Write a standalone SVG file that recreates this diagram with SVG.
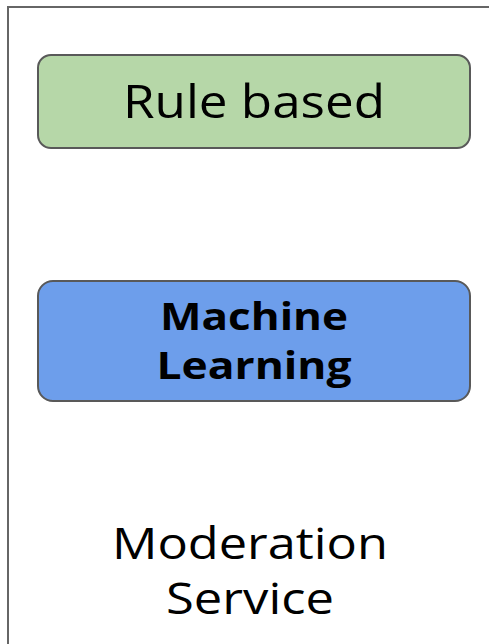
<svg xmlns="http://www.w3.org/2000/svg" width="489" height="644" viewBox="0 0 489 644">
  <style>
    .frame { fill: #ffffff; stroke: #666666; stroke-width: 2; }
    .box { stroke: #595959; stroke-width: 2; }
    .label { font-family: "Open Sans", "Liberation Sans", sans-serif; fill: #000000; text-anchor: middle; }
  </style>
  <rect width="489" height="644" fill="#ffffff"/>
  <g id="moderation-service">
    <rect class="frame" x="8" y="7" width="500" height="660"/>
    <text class="label" x="250" y="559" font-size="44" textLength="276" lengthAdjust="spacingAndGlyphs">Moderation</text>
    <text class="label" x="250" y="614" font-size="44" textLength="168" lengthAdjust="spacingAndGlyphs">Service</text>
  </g>
  <g id="rule-based">
    <rect class="box" x="38" y="55" width="432" height="93" rx="13" fill="#b6d7a8"/>
    <text class="label" x="254" y="118" font-size="46" textLength="262" lengthAdjust="spacingAndGlyphs">Rule based</text>
  </g>
  <g id="machine-learning">
    <rect class="box" x="38" y="281" width="432" height="120" rx="15" fill="#6d9eeb"/>
    <text class="label" x="254" y="330" font-size="38" font-weight="bold" textLength="188" lengthAdjust="spacingAndGlyphs">Machine</text>
    <text class="label" x="254" y="379" font-size="38" font-weight="bold" textLength="195" lengthAdjust="spacingAndGlyphs">Learning</text>
  </g>
</svg>
